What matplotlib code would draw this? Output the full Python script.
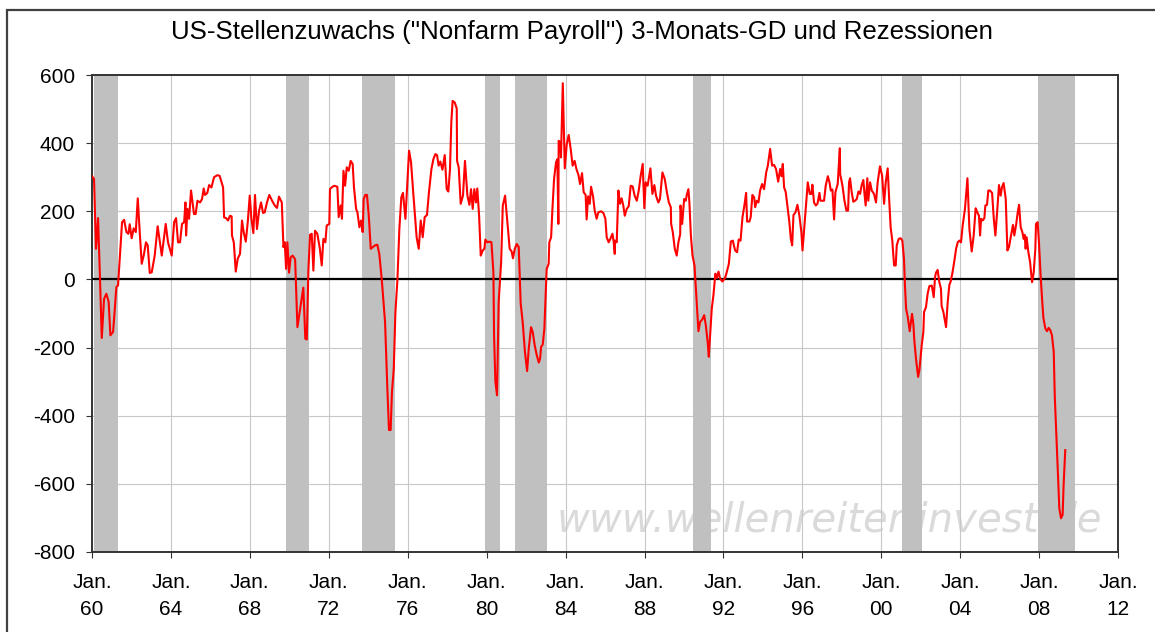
import matplotlib
matplotlib.use("Agg")
import matplotlib.pyplot as plt
from matplotlib.patches import Rectangle

plt.rcParams['font.family'] = ['Liberation Sans', 'DejaVu Sans']
plt.rcParams['axes.unicode_minus'] = False

# Monate seit Jan. 1960 und 3-Monats-GD der Nonfarm Payrolls (Tsd.)
months = [
    0.0, 1.2, 2.4, 3.65, 4.9, 5.9, 7.3, 8.7, 10.1, 11.15, 12.8, 14.8, 15.8, 17.2, 18.25,
    19.5, 20.9, 22.1, 22.9, 24.1, 25.3, 26.6, 27.8, 29.0, 30.2, 31.4, 32.8, 33.85, 35.1,
    36.3, 38.1, 39.9, 41.15, 42.4, 44.8, 46.2, 48.45, 49.9, 51.1, 52.3, 53.5, 54.7, 56.0,
    56.8, 57.2, 58.0, 59.0, 60.2, 62.0, 63.0, 64.1, 65.7, 66.9, 67.9, 68.7, 70.1, 71.2,
    72.6, 74.2, 76.2, 77.6, 79.7, 80.3, 81.5, 82.7, 83.9, 84.9, 85.1, 86.2, 87.4, 88.6,
    90.0, 91.2, 92.2, 93.5, 94.7, 95.9, 96.9, 98.1, 99.1, 100.3, 101.6, 102.8, 104.0,
    105.0, 106.4, 107.8, 109.5, 111.1, 112.5, 113.7,
    115.4, 116.4, 117.2, 118.0, 118.8, 119.8, 120.8, 122.0, 123.5, 124.9, 128.5, 129.7,
    130.6, 131.6, 132.6, 133.6, 134.6, 135.6, 137.0, 138.5, 139.7, 140.7, 141.9, 142.7,
    144.3, 144.7, 146.2, 147.4, 149.2, 150.0, 151.2, 152.0, 152.9, 153.9, 154.9, 156.1,
    157.3, 158.5, 159.3, 160.6, 161.4, 162.6, 163.6, 164.6, 165.2, 166.2, 167.2, 168.3,
    169.5, 172.1, 173.5, 174.7, 176.2, 178.2, 179.6, 180.6, 181.6, 182.4, 183.5, 184.5,
    185.7, 186.9, 188.1, 189.1, 190.6, 191.4, 192.8, 194.0, 195.4, 197.4, 198.7, 199.9,
    201.1, 202.3, 203.7, 204.9, 206.4, 207.6, 208.8, 209.8, 210.8, 211.8, 213.1, 214.5,
    215.7, 216.7, 217.7, 218.5, 219.3, 220.6, 221.8, 222.0, 223.0, 224.2, 225.6, 226.8,
    228.3, 229.5, 230.5, 231.5, 232.5, 233.5, 234.3,
    235.4, 236.4, 237.6, 238.6, 239.2, 240.4, 241.7, 242.9, 244.1, 244.5, 245.3, 246.3,
    247.3, 248.8, 249.8, 251.2, 252.6, 254.0, 255.2, 256.0, 257.1, 258.3, 259.5, 260.7,
    261.9, 263.3, 264.6, 265.6, 267.0, 268.0, 269.2, 270.4, 271.7, 272.5, 273.1, 274.1,
    275.1, 276.1, 276.5, 277.7, 278.1, 279.2, 280.0, 281.0, 282.2, 283.0, 283.6, 283.8,
    284.8, 285.2, 286.3, 287.5, 288.7, 289.9, 291.1, 292.3, 293.5, 294.6, 295.8, 296.8,
    298.0, 299.0, 300.2, 300.8, 301.7, 302.7, 303.5, 304.7, 305.7, 306.9, 307.9, 309.6,
    311.0, 312.2, 313.0, 314.2, 315.2, 316.5, 317.3, 317.9, 318.1, 319.1, 320.1, 321.1,
    322.1, 323.1, 324.0, 325.2, 326.4, 327.6, 328.8, 330.0, 331.3, 332.5, 333.7, 334.9,
    335.9, 336.7, 337.9, 339.6, 340.8, 342.0, 343.0, 344.4, 345.4, 346.9,
    348.3, 349.6, 350.8, 352.0, 352.2, 353.2, 354.4, 355.6, 356.6, 357.7, 357.9, 358.9,
    360.1, 361.1, 361.7, 362.7, 363.3, 364.2, 365.2, 366.4, 367.0, 367.8, 368.8, 369.8,
    371.2, 372.3, 373.3, 374.5, 375.1, 375.9, 376.9, 377.9, 379.1, 380.0, 381.0, 382.0,
    383.4, 385.0, 386.0, 387.3, 388.5, 389.7, 391.1, 392.3, 393.3, 394.4, 395.6, 396.8,
    397.8, 398.4, 399.8, 400.6, 401.6, 402.7, 403.3, 404.3, 405.3, 406.3, 407.5, 408.7,
    410.0, 411.0, 412.4, 413.6, 414.8, 416.0, 417.3, 418.5, 419.3, 420.1, 420.9, 421.9,
    422.9, 424.1, 425.0, 425.8, 426.6, 427.8, 429.0, 430.2, 431.4, 432.1, 433.1, 434.1,
    435.3, 436.5, 437.5, 438.1, 439.1, 440.2, 441.2, 442.4, 443.0, 444.2, 445.2, 446.2,
    447.5, 448.5, 449.3, 450.3, 451.3, 452.1, 453.5, 454.8, 455.0, 456.4, 457.6, 458.8,
    459.8, 460.4, 461.0,
    462.0, 463.0, 464.0, 465.1, 466.1, 467.1, 468.1, 469.1, 469.7, 470.5, 471.5, 472.1,
    473.2, 474.2, 475.6, 476.8, 477.8, 479.2, 480.5, 481.7, 482.7, 483.9, 484.9, 485.7,
    486.7, 487.8, 488.8, 489.4, 490.6, 491.8, 492.8, 493.8, 494.4, 495.1, 496.1, 497.3,
    498.7, 499.5, 500.1, 501.1, 502.4, 503.2, 504.6, 505.6, 506.0, 507.2, 508.2, 509.2,
    510.7, 511.9, 512.7, 513.3, 514.3, 515.3, 516.3, 516.7, 517.8, 519.4, 520.4, 521.4,
    522.2, 523.2, 524.4, 525.5, 526.5, 527.5, 528.5, 529.5, 530.9, 532.4, 533.6, 535.0,
    536.2, 537.4, 538.4, 539.4, 540.1, 540.7, 541.7, 542.7, 543.3, 544.3, 545.1, 546.1,
    547.4, 548.4, 549.4, 550.6, 551.6, 552.6, 553.4, 554.4, 555.7, 556.7, 557.7, 558.9,
    560.1, 560.9, 562.0, 563.0, 563.8, 564.8, 565.8, 566.6, 567.2, 567.8, 568.4, 569.4,
    570.5, 571.7, 572.7, 573.7, 574.1, 575.1, 575.9, 576.9, 577.8, 578.6, 579.8, 580.8,
    581.8, 582.8, 583.8, 584.9, 585.5, 586.3, 587.3, 588.3, 589.3, 590.3, 590.9, 591.9,
]
payrolls = [
    303, 295, 90, 180, -8, -172, -57, -42, -66, -164, -154, -22, -18, 90, 168,
    175, 139, 134, 162, 121, 150, 139, 238, 139, 46, 70, 109, 100, 19,
    21, 70, 156, 114, 70, 163, 109, 70, 168, 180, 109, 109, 163, 168,
    226, 129, 207, 178, 261, 192, 192, 231, 226, 236, 267, 248, 254, 277,
    270, 300, 306, 304, 270, 182, 180, 173, 187, 185, 129, 109, 23, 61,
    75, 173, 139, 111, 168, 246, 178, 136, 248, 148, 202, 226, 195,
    197, 226, 248, 231, 217, 210, 243,
    226, 95, 109, 31, 109, 20, 65, 70, 59, -140, -24, -174,
    -176, 31, 131, 134, 26, 143, 134, 92, 41, 119, 109, 158,
    163, 265, 272, 275, 272, 183, 217, 178, 319, 275, 329, 319,
    348, 339, 270, 207, 197, 153, 173, 139, 236, 248, 248, 187,
    90, 100, 102, 75, 0, -125, -320, -442, -442, -330, -262, -96,
    -3, 148, 241, 254, 178, 251, 378, 344, 251, 124, 90, 173,
    124, 183, 189, 256, 324, 353, 368, 365, 334, 346, 322, 365,
    265, 258, 324, 461, 524, 519, 502, 348, 329, 222, 246, 348,
    246, 219, 265, 207, 265, 226, 267,
    187, 70, 85, 90, 117, 109, 111, 109, 21, -164, -300, -340,
    -66, 51, 217, 246, 168, 90, 82, 62, 90, 104, 95, -71,
    -125, -213, -269, -203, -140, -154, -193, -221, -244, -232, -198, -191,
    -144, -18, 31, 46, 109, 124, 207, 295, 344, 353, 163, 407,
    402, 358, 576, 326, 397, 424, 383, 334, 348, 324, 307, 280,
    312, 256, 248, 176, 244, 222, 272, 244, 202, 178, 197, 200,
    195, 178, 124, 109, 119, 134, 109, 75, 114, 109, 261, 222,
    238, 217, 187, 207, 215, 275, 273, 246, 231, 261, 305, 339,
    209, 285, 275, 326, 251, 277, 246, 226, 236, 314,
    295, 256, 226, 212, 163, 139, 90, 70, 109, 132, 217, 163,
    236, 231, 248, 265, 226, 129, 70, 41, -8, -76, -152, -125,
    -117, -105, -135, -188, -227, -164, -86, -47, 17, 4, 23, 2,
    -6, 4, 21, 46, 111, 114, 85, 80, 117, 114, 183, 219,
    254, 170, 170, 183, 248, 241, 212, 231, 226, 261, 280, 265,
    314, 334, 383, 334, 336, 324, 287, 324, 303, 339, 270, 256,
    217, 168, 119, 100, 189, 197, 219, 187, 139, 85, 148, 207,
    285, 251, 251, 278, 226, 217, 222, 254, 231, 231, 231, 275,
    303, 285, 261, 264, 176, 256, 280, 385, 309, 275, 231, 202,
    202, 285, 297,
    256, 228, 231, 236, 258, 251, 277, 292, 256, 217, 297, 231,
    285, 261, 251, 226, 285, 332, 305, 222, 285, 326, 226, 153,
    114, 41, 41, 100, 119, 121, 114, 61, -18, -86, -110, -152,
    -101, -130, -179, -232, -286, -266, -193, -154, -96, -81, -42, -20,
    -18, -52, 7, 20, 28, -8, -27, -78, -96, -140, -66, -16,
    -6, 17, 53, 90, 109, 114, 109, 158, 207, 297, 148, 82,
    129, 209, 197, 187, 129, 178, 173, 180, 217, 219, 261, 261,
    254, 180, 129, 207, 277, 246, 270, 283, 236, 85, 95, 129,
    160, 129, 160, 197, 219, 153, 139, 119, 131, 90, 124, 82,
    51, -8, 20, 90, 163, 168, 109, 12, -57, -113, -144, -152,
    -142, -149, -164, -213, -340, -437, -554, -672, -701, -691, -603, -501,
]

# Rezessionen (Beginn, Ende) in Jahren
rec_start = [1960.1, 1969.85, 1973.7, 1979.9, 1981.45, 1990.45, 2001.05, 2007.93]
rec_end = [1961.3, 1971.0, 1975.35, 1980.7, 1983.05, 1991.35, 2002.05, 2009.82]

tick_years = list(range(1960, 2013, 4))
tick_labels = ["Jan.\n%02d" % (y % 100) for y in tick_years]

years = [1960 + m / 12 for m in months]

fig = plt.figure(figsize=(11.55, 6.32), dpi=100)
ax = fig.add_axes([0.0797, 0.1266, 0.8883, 0.7547])

ax.text(0.719, 0.067, "www.wellenreiter-invest.de", transform=ax.transAxes,
        ha='center', va='center', fontsize=29, style='italic', color='#dadada',
        family='DejaVu Sans', zorder=0.5)

for a, b in zip(rec_start, rec_end):
    ax.axvspan(a, b, color='#c0c0c0', lw=0, zorder=1)

ax.axhline(0, color='black', lw=1.6, zorder=3)
ax.plot(years, payrolls, color='red', lw=1.5, zorder=4)

ax.set_xlim(1960, 2012)
ax.set_ylim(-800, 600)
ax.set_yticks(range(-800, 601, 200))
ax.set_xticks(tick_years)
ax.set_xticklabels(tick_labels, linespacing=1.55)
ax.grid(True, color='#c8c8c8', lw=0.8, zorder=0)
ax.set_axisbelow(True)
ax.tick_params(axis='y', labelsize=15, length=4.5, pad=8, color='#333333')
ax.tick_params(axis='x', labelsize=15, length=4, pad=11, color='#333333')
for s in ax.spines.values():
    s.set_color('#333333')
    s.set_linewidth(1.4)

fig.text(0.504, 0.949, 'US-Stellenzuwachs ("Nonfarm Payroll") 3-Monats-GD und Rezessionen',
         ha='center', va='center', fontsize=18.6)

fig.patches.append(Rectangle((7 / 1155, -0.05), 1.1, 1.05 - 10 / 632,
                             transform=fig.transFigure, fill=False,
                             edgecolor='#404040', lw=1.6))

fig.savefig('out.png', dpi=100)
